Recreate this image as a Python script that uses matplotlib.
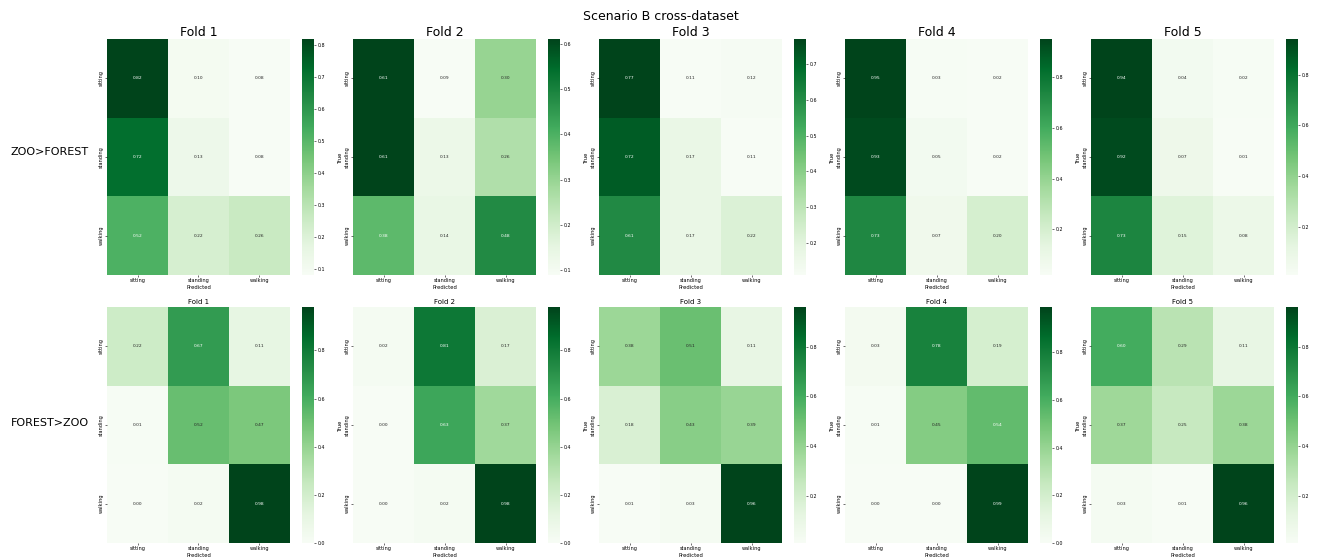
import numpy as np
import matplotlib
matplotlib.use("Agg")
import matplotlib.pyplot as plt
import seaborn as sns

classes = ["sitting", "standing", "walking"]
folds = ["Fold 1", "Fold 2", "Fold 3", "Fold 4", "Fold 5"]
rows = ["ZOO>FOREST", "FOREST>ZOO"]

# ZOO>FOREST confusion matrices (rows = true, cols = predicted)
zf_fold1 = [[0.82, 0.10, 0.08], [0.72, 0.13, 0.08], [0.52, 0.22, 0.26]]
zf_fold2 = [[0.61, 0.09, 0.30], [0.61, 0.13, 0.26], [0.38, 0.14, 0.48]]
zf_fold3 = [[0.77, 0.11, 0.12], [0.72, 0.17, 0.11], [0.61, 0.17, 0.22]]
zf_fold4 = [[0.95, 0.03, 0.02], [0.93, 0.05, 0.02], [0.73, 0.07, 0.20]]
zf_fold5 = [[0.94, 0.04, 0.02], [0.92, 0.07, 0.01], [0.73, 0.15, 0.08]]

# FOREST>ZOO confusion matrices
fz_fold1 = [[0.22, 0.67, 0.11], [0.01, 0.52, 0.47], [0.00, 0.02, 0.98]]
fz_fold2 = [[0.02, 0.81, 0.17], [0.00, 0.63, 0.37], [0.00, 0.02, 0.98]]
fz_fold3 = [[0.38, 0.51, 0.11], [0.18, 0.43, 0.39], [0.01, 0.03, 0.96]]
fz_fold4 = [[0.03, 0.78, 0.19], [0.01, 0.45, 0.54], [0.00, 0.00, 0.99]]
fz_fold5 = [[0.60, 0.29, 0.11], [0.37, 0.25, 0.38], [0.03, 0.01, 0.96]]

data = [[zf_fold1, zf_fold2, zf_fold3, zf_fold4, zf_fold5],
        [fz_fold1, fz_fold2, fz_fold3, fz_fold4, fz_fold5]]

W, H = 1322, 558
fig = plt.figure(figsize=(W / 100, H / 100), dpi=100)

def box(x, y, w, h):
    # pixel box (top-left origin) -> figure fraction
    return [x / W, 1 - (y + h) / H, w / W, h / H]

lefts = [107, 353, 599, 845, 1091]
row_tops = [39, 307]
hm_w, hm_h = 183, 236
title_sizes = [9, 5]

for r in range(2):
    for c in range(5):
        ax = fig.add_axes(box(lefts[c], row_tops[r], hm_w, hm_h))
        cax = fig.add_axes(box(lefts[c] + 195, row_tops[r], 12, hm_h))
        sns.heatmap(np.array(data[r][c]), annot=True, fmt=".2f", cmap="Greens",
                    xticklabels=classes, yticklabels=classes, ax=ax, cbar_ax=cax,
                    annot_kws={"fontsize": 3.2})
        ax.set_title(folds[c], fontsize=title_sizes[r], pad=2)
        ax.tick_params(labelsize=3.6, length=1.5, width=0.4, pad=1)
        ax.set_xlabel("Predicted", fontsize=3.8, labelpad=1)
        if c > 0:
            ax.set_ylabel("True", fontsize=3.8, labelpad=1)
        for lab in ax.get_yticklabels():
            lab.set_rotation(90)
            lab.set_va("center")
        cax.tick_params(labelsize=3.4, length=1.5, width=0.4, pad=1)
        cax.yaxis.set_major_locator(matplotlib.ticker.MaxNLocator(nbins=8, steps=[1, 2, 5, 10]))

fig.text(0.5, 1 - 16 / H, "Scenario B cross-dataset", ha="center", va="center", fontsize=9)
fig.text(50 / W, 1 - 152 / H, rows[0], ha="center", va="center", fontsize=8)
fig.text(50 / W, 1 - 423 / H, rows[1], ha="center", va="center", fontsize=8)

fig.savefig("out.png", dpi=100)
